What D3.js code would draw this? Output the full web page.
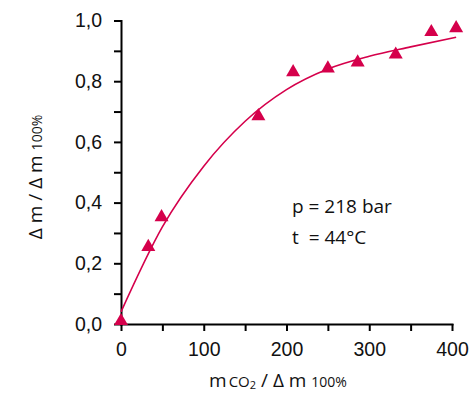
<!DOCTYPE html>
<html>
<head>
<meta charset="utf-8">
<script src="https://cdn.jsdelivr.net/npm/d3@7"></script>
<style>
  body { margin: 0; background: #fff; }
  svg { font-family: "Open Sans", sans-serif; }
  .axis path, .axis line { stroke: #000; stroke-width: 2; }
  .axis text { font-size: 19.5px; fill: #111; }
</style>
</head>
<body>
<div id="chart"></div>
<script>
// 測定点
var pointX = [0, 33, 49, 166, 208, 250, 286, 332, 375, 405];
var pointY = [0.01, 0.254, 0.352, 0.685, 0.83, 0.842, 0.862, 0.888, 0.962, 0.975];

// フィット曲線
var curveX = [0, 50, 100, 150, 200, 250, 300, 350, 405];
var curveY = [0.04, 0.32, 0.52, 0.668, 0.772, 0.84, 0.882, 0.913, 0.945];

// 軸目盛
var xTicks = [0, 50, 100, 150, 200, 250, 300, 350, 400];
var yTicks = [0, 0.1, 0.2, 0.3, 0.4, 0.5, 0.6, 0.7, 0.8, 0.9, 1.0];

var width = 474;
var height = 394;
var red = '#d5004b';

var xScale = d3.scaleLinear().domain([0, 400]).range([121, 452]);
var yScale = d3.scaleLinear().domain([0, 1]).range([324, 20.5]);

var svg = d3.select('#chart').append('svg')
  .attr('width', width).attr('height', height);

// Y軸
svg.append('g').attr('class', 'axis')
  .attr('transform', 'translate(' + xScale(0) + ',0)')
  .call(d3.axisLeft(yScale).tickValues(yTicks).tickSize(7).tickSizeOuter(0).tickPadding(12)
    .tickFormat(function(d) {
      var r = Math.round(d * 10);
      return r % 2 === 0 ? d3.format('.1f')(d).replace('.', ',') : '';
    }));

// X軸
svg.append('g').attr('class', 'axis')
  .attr('transform', 'translate(0,' + yScale(0) + ')')
  .call(d3.axisBottom(xScale).tickValues(xTicks).tickSize(7).tickSizeOuter(0).tickPadding(11)
    .tickFormat(function(d) { return d % 100 === 0 ? d : ''; }));

svg.selectAll('.axis .domain').attr('stroke-linecap', 'square');

// 曲線
var line = d3.line()
  .x(function(d) { return xScale(d[0]); })
  .y(function(d) { return yScale(d[1]); })
  .curve(d3.curveMonotoneX);

svg.append('path')
  .datum(d3.zip(curveX, curveY))
  .attr('d', line)
  .attr('fill', 'none')
  .attr('stroke', red)
  .attr('stroke-width', 1.6);

// 三角マーカー
var tri = d3.symbol().type(d3.symbolTriangle).size(85);
svg.selectAll('.pt')
  .data(d3.zip(pointX, pointY))
  .enter().append('path')
  .attr('class', 'pt')
  .attr('d', tri)
  .attr('fill', red)
  .attr('transform', function(d) {
    return 'translate(' + xScale(d[0]) + ',' + yScale(d[1]) + ')';
  });

// 注記
svg.append('text').attr('x', 292).attr('y', 213)
  .attr('font-size', 19).attr('fill', '#111').text('p = 218 bar');
svg.append('text').attr('x', 292).attr('y', 244)
  .attr('font-size', 19).attr('fill', '#111').attr('xml:space', 'preserve').text('t  = 44°C');

// X軸タイトル
var xt = svg.append('text').attr('x', 278).attr('y', 387)
  .attr('text-anchor', 'middle').attr('font-size', 19).attr('fill', '#111');
xt.append('tspan').text('m');
xt.append('tspan').attr('font-size', 15).attr('dx', 2).text('CO');
xt.append('tspan').attr('font-size', 11).attr('dy', 2).text('2');
xt.append('tspan').attr('dy', -2).text(' / Δ m ');
xt.append('tspan').attr('font-size', 14).text('100%');

// Y軸タイトル
var yt = svg.append('text')
  .attr('transform', 'translate(42,177) rotate(-90)')
  .attr('text-anchor', 'middle').attr('font-size', 19).attr('fill', '#111');
yt.append('tspan').text('Δ m / Δ m ');
yt.append('tspan').attr('font-size', 14).text('100%');
</script>
</body>
</html>
